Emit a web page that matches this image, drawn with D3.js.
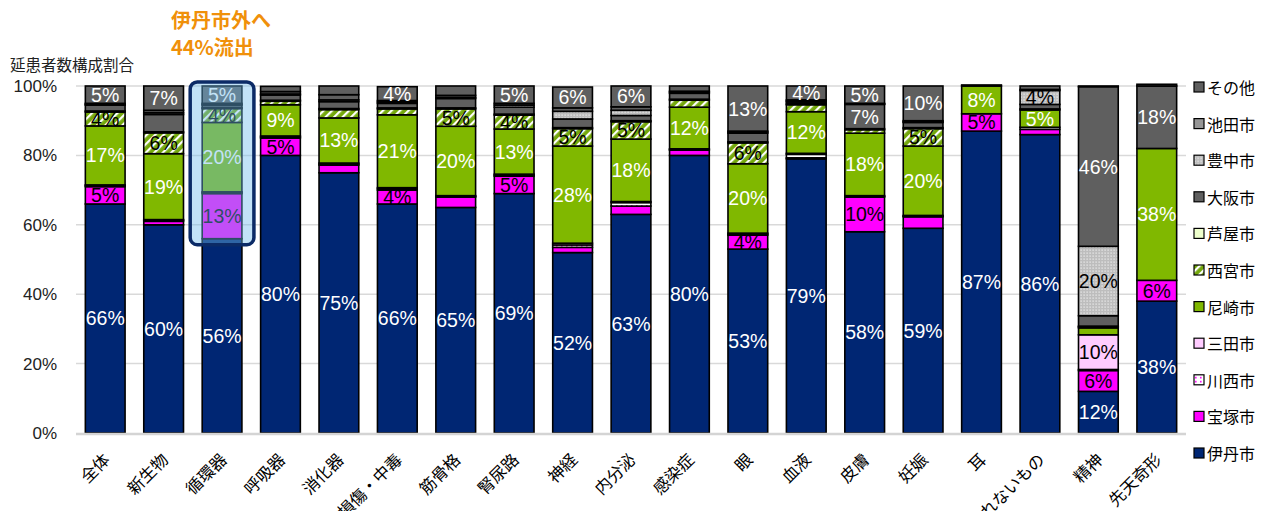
<!DOCTYPE html>
<html>
<head>
<meta charset="utf-8">
<script src="https://cdn.jsdelivr.net/npm/d3@7"></script>
<style>
  html, body { margin: 0; padding: 0; background: #fff; }
  svg { display: block; }
  text { font-family: "Liberation Sans", Arial, sans-serif; }
  .jp { font-family: "Noto Sans CJK JP", "Noto Sans", sans-serif; }
</style>
</head>
<body>
<svg id="chart" width="1277" height="511"></svg>
<script>
// 疾病分類別・患者住所地別の延患者数構成割合（%）
const categories = ["全体","新生物","循環器","呼吸器","消化器","損傷・中毒","筋骨格","腎尿路","神経","内分泌","感染症","眼","血液","皮膚","妊娠","耳","分類されないもの","精神","先天奇形"];

// 積み上げ順（下から上）
const seriesNames = ["伊丹市","宝塚市","川西市","三田市","尼崎市","西宮市","芦屋市","大阪市","豊中市","池田市","その他"];

const itami     = [66, 60, 56, 80, 75,  66, 65, 69, 52, 63, 80, 53, 79, 58, 59,  87, 86, 12, 38];
const takarazuka= [5,  1,  13, 5,  2.2, 4,  3,  5,  1.5,2.4,1.5,4,  0.3,10, 3.3, 5,  1.5,6,  6];
const kawanishi = [0.3,0.3,0.3,0.3,0.3, 0.4,0.2,0.3,0.7,1,  0.2,0.3,1,  0.2,0.2, 0,  0.6,0.3,0];
const sanda     = [0.2,0.2,0.2,0.3,0.3, 0.3,0.2,0.3,0.5,0.3,0.2,0.3,0.3,0.2,0.2, 0,  0,  10, 0];
const amagasaki = [17, 19, 20, 9,  13,  21, 20, 13, 28, 18, 12, 20, 12, 18, 20,  8,  5,  2,  38];
const nishinomiya=[4,  6,  4,  1,  2.4, 1.7,5,  4,  5,  5,  2,  6,  2,  1,  5,   0,  0.3,0.3,0];
const ashiya     =[0.3,0.3,0.3,0.3,0.3, 0.3,0.3,0.3,0.3,0.3,0.3,0.3,0.3,0.3,0.3, 0,  0,  0.2,0];
const osaka      =[1.7,5,  0.7,1.5,2,   1.3,2.7,2,  2.5,1.5,1.7,2.5,0.5,7,  1.5, 0,  1.3,3,  18];
const toyonaka   =[0.2,0.5,0.2,0.3,0.5, 0.4,0.3,0.6,2.2,1.5,0.3,0.3,0.3,0.1,0.2, 0,  4,  20, 0];
const ikeda      =[0.3,0.7,0.3,0.7,1.5, 0.4,0.6,0.5,1,  1,  0.3,0.3,0.3,0.2,0.3, 0,  0.3,46, 0];
const others     =[5,  7,  5,  1.5,2.5, 4,  2.7,5,  6,  6,  1.5,13, 4,  5,  10,  0.3,1,  0.2,0.5];

const seriesValues = [itami, takarazuka, kawanishi, sanda, amagasaki, nishinomiya, ashiya, osaka, toyonaka, ikeda, others];

// 値ラベルを表示しない区間
const hiddenLabels = [["新生物","大阪市"]];

const yTicks = [0, 20, 40, 60, 80, 100];
const highlightCategory = "循環器";
const highlightFrom = 56;

const svg = d3.select("#chart");
const defs = svg.append("defs");

// 塗りパターン
const stripe = defs.append("pattern").attr("id","pat-stripe")
  .attr("patternUnits","userSpaceOnUse").attr("width",6).attr("height",6)
  .attr("patternTransform","rotate(45)");
stripe.append("rect").attr("width",6).attr("height",6).attr("fill","#74A80C");
stripe.append("rect").attr("x",0).attr("width",2.2).attr("height",6).attr("fill","#fff");

const dotsMag = defs.append("pattern").attr("id","pat-dots-mag")
  .attr("patternUnits","userSpaceOnUse").attr("width",5).attr("height",4);
dotsMag.append("rect").attr("width",5).attr("height",4).attr("fill","#fff");
dotsMag.append("rect").attr("x",1).attr("y",1).attr("width",1.6).attr("height",1.6).attr("fill","#FF00FF");

const dotsGray = defs.append("pattern").attr("id","pat-dots-gray")
  .attr("patternUnits","userSpaceOnUse").attr("width",3).attr("height",3);
dotsGray.append("rect").attr("width",3).attr("height",3).attr("fill","#BDBDBD");
dotsGray.append("rect").attr("x",0.5).attr("y",0.5).attr("width",1.2).attr("height",1.2).attr("fill","#F2F2F2");

const fills = {
  "伊丹市": "#002673", "宝塚市": "#FF00FF", "川西市": "url(#pat-dots-mag)", "三田市": "#FFCCFF",
  "尼崎市": "#80B800", "西宮市": "url(#pat-stripe)", "芦屋市": "#EEFFCC", "大阪市": "#5F5F5F",
  "豊中市": "url(#pat-dots-gray)", "池田市": "#5F5F5F", "その他": "#5F5F5F"
};
const legendFills = Object.assign({}, fills, {"池田市": "#969696"});
const labelColors = {
  "伊丹市": "#fff", "宝塚市": "#000", "川西市": "#000", "三田市": "#000", "尼崎市": "#fff",
  "西宮市": "#000", "芦屋市": "#000", "大阪市": "#fff", "豊中市": "#000", "池田市": "#fff", "その他": "#fff"
};

const x = d3.scaleBand().domain(categories).range([76, 1186]).paddingInner(0.32).paddingOuter(0.16);
const y = d3.scaleLinear().domain([0, 100]).range([433, 86]);

// 目盛線
const grid = svg.append("g");
grid.selectAll("line").data(yTicks.filter(t => t > 0)).join("line")
  .attr("x1", 76).attr("x2", 1186)
  .attr("y1", d => y(d)).attr("y2", d => y(d))
  .attr("stroke", "#D9D9D9").attr("stroke-width", 1.5);

// 縦軸ラベル
const yAxis = d3.axisLeft(y).tickValues(yTicks).tickFormat(d => d + "%").tickSize(0).tickPadding(0);
const yg = svg.append("g").attr("transform", "translate(57,0)").call(yAxis);
yg.select(".domain").remove();
yg.selectAll("text").attr("font-size", 17).attr("fill", "#222")
  .attr("font-family", "Liberation Sans, Arial, sans-serif");

// 積み上げデータ
const table = categories.map((c, i) => {
  const row = { category: c };
  seriesNames.forEach((s, k) => row[s] = seriesValues[k][i]);
  return row;
});
const stacked = d3.stack().keys(seriesNames)(table);

const bars = svg.append("g");
stacked.forEach(layer => {
  const name = layer.key;
  bars.append("g").selectAll("rect")
    .data(layer.filter(d => d[1] - d[0] > 0))
    .join("rect")
    .attr("x", d => x(d.data.category))
    .attr("width", x.bandwidth())
    .attr("y", d => y(d[1]))
    .attr("height", d => y(d[0]) - y(d[1]))
    .attr("fill", fills[name])
    .attr("stroke", "#000")
    .attr("stroke-width", 1.6);
});

// 値ラベル
const labels = svg.append("g");
stacked.forEach(layer => {
  const name = layer.key;
  labels.append("g").selectAll("text")
    .data(layer.filter(d => (d[1] - d[0]) >= 3.5 &&
      !hiddenLabels.some(h => h[0] === d.data.category && h[1] === name)))
    .join("text")
    .attr("x", d => x(d.data.category) + x.bandwidth() / 2)
    .attr("y", d => y((d[0] + d[1]) / 2))
    .attr("text-anchor", "middle")
    .attr("dominant-baseline", "central")
    .attr("font-size", 19.5)
    .attr("fill", labelColors[name])
    .text(d => Math.round(d[1] - d[0]) + "%");
});

// 横軸（0%）
svg.append("line").attr("x1", 76).attr("x2", 1186).attr("y1", y(0) + 1).attr("y2", y(0) + 1)
  .attr("stroke", "#D4D4D4").attr("stroke-width", 2.5);

// 横軸ラベル
const xAxis = d3.axisBottom(x).tickSize(0).tickPadding(0);
const xg = svg.append("g").attr("transform", "translate(0,442)").call(xAxis);
xg.select(".domain").remove();
xg.selectAll("text")
  .attr("class", "jp")
  .attr("font-size", 16.5)
  .attr("fill", "#000")
  .attr("text-anchor", "end")
  .attr("dy", "0.75em")
  .attr("transform", "translate(-3,10) rotate(-45)");

// 循環器の市外流出部分の強調
const hx = x(highlightCategory);
const hl = svg.append("g");
hl.append("rect")
  .attr("x", hx - 12).attr("width", x.bandwidth() + 24)
  .attr("y", y(100) - 4).attr("height", y(highlightFrom) - y(100) + 10)
  .attr("rx", 7).attr("ry", 7)
  .attr("fill", "rgba(110,185,235,0.42)")
  .attr("stroke", "#0B2A66").attr("stroke-width", 3.5);

// 注記
const noteLines = ["伊丹市外へ", "44%流出"];
svg.append("g").selectAll("text").data(noteLines).join("text")
  .attr("class", "jp").attr("fill", "#F0900A")
  .attr("font-size", 20).attr("font-weight", "bold")
  .attr("x", 171).attr("y", (d, i) => 28 + i * 27)
  .text(d => d);

svg.append("text").attr("class", "jp").attr("x", 10).attr("y", 71)
  .attr("font-size", 15.5).attr("fill", "#222").text("延患者数構成割合");

// 凡例
const legend = svg.append("g");
const legendOrder = seriesNames.slice().reverse();
const ly = d3.scalePoint().domain(legendOrder).range([87, 453]);
const li = legend.selectAll("g").data(legendOrder).join("g")
  .attr("transform", d => `translate(1194,${ly(d)})`);
li.append("rect").attr("x", 0).attr("y", -5).attr("width", 10).attr("height", 10)
  .attr("fill", d => legendFills[d]).attr("stroke", "#000").attr("stroke-width", 1.2);
li.append("text").attr("class", "jp").attr("x", 13).attr("y", 0)
  .attr("dominant-baseline", "central").attr("font-size", 16).attr("fill", "#000")
  .text(d => d);
</script>
</body>
</html>
